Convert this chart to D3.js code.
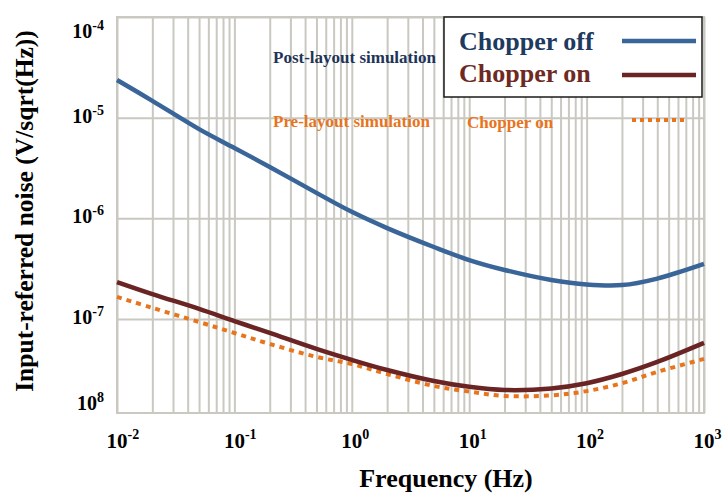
<!DOCTYPE html>
<html>
<head>
<meta charset="utf-8">
<script src="https://cdn.jsdelivr.net/npm/d3@7"></script>
<style>
  body { margin: 0; background: #fff; }
  svg { display: block; font-family: "Liberation Serif", "DejaVu Serif", serif; font-weight: bold; }
</style>
</head>
<body>
<svg id="chart" width="727" height="493"></svg>
<script>
// ---- data ----
const freq = [0.01, 0.02, 0.05, 0.1, 0.2, 0.5, 1, 2, 5, 10, 20, 50, 100, 200, 400, 1000];
const postChopperOff = [2.37e-5, 1.47e-5, 7.7e-6, 5.0e-6, 3.24e-6, 1.79e-6, 1.16e-6, 8.0e-7, 5.19e-7, 3.85e-7, 3.07e-7, 2.44e-7, 2.20e-7, 2.17e-7, 2.52e-7, 3.52e-7];
const postChopperOn  = [2.33e-7, 1.77e-7, 1.26e-7, 9.54e-8, 7.26e-8, 5.04e-8, 3.92e-8, 3.11e-8, 2.42e-8, 2.12e-8, 1.97e-8, 2.04e-8, 2.30e-8, 2.84e-8, 3.74e-8, 5.78e-8];
const preChopperOn   = [1.66e-7, 1.29e-7, 9.33e-8, 7.26e-8, 5.65e-8, 4.20e-8, 3.57e-8, 2.84e-8, 2.16e-8, 1.90e-8, 1.72e-8, 1.74e-8, 1.92e-8, 2.30e-8, 2.98e-8, 4.01e-8];
const xTickValues = [0.01, 0.1, 1, 10, 100, 1000];
const xTickExps   = ["-2", "-1", "0", "1", "2", "3"];
const yTickValues = [1e-4, 1e-5, 1e-6, 1e-7, 1e-8];
const yTickExps   = ["-4", "-5", "-6", "-7", "8"];
const legendLabels = ["Chopper off", "Chopper on"];
const noteLabels = ["Post-layout simulation", "Pre-layout simulation", "Chopper on"];

// ---- layout ----
const svg = d3.select("#chart");
const L = 117, R = 704, T = 17, B = 413;
const x = d3.scaleLog().domain([0.01, 1000]).range([L, R]);
const y = d3.scaleLog().domain([Math.pow(10, -7.934), 1e-4]).range([B, T]);
const gridColor = "#c9c8c1";

// minor + major vertical grid
const xGridVals = [];
for (let e = -2; e < 3; e++) for (let m = 1; m < 10; m++) xGridVals.push(m * Math.pow(10, e));
xGridVals.push(1000);

const gx = svg.append("g").attr("transform", `translate(0,${B})`)
  .call(d3.axisBottom(x).tickValues(xGridVals).tickSize(-(B - T)).tickFormat(""));
gx.select(".domain").remove();
gx.selectAll("line").attr("stroke", gridColor).attr("stroke-width", 2);

const gy = svg.append("g").attr("transform", `translate(${L},0)`)
  .call(d3.axisLeft(y).tickValues(yTickValues.slice(0, 4)).tickSize(-(R - L)).tickFormat(""));
gy.select(".domain").remove();
gy.selectAll("line").attr("stroke", gridColor).attr("stroke-width", 2);

svg.append("rect").attr("x", L).attr("y", T).attr("width", R - L).attr("height", B - T)
  .attr("fill", "none").attr("stroke", gridColor).attr("stroke-width", 2);

// x tick labels
xTickValues.forEach((v, i) => {
  const t = svg.append("text").attr("x", x(v) - 10.5).attr("y", 448)
    .attr("font-size", 21).attr("fill", "#000");
  t.append("tspan").text("10");
  t.append("tspan").attr("dy", -9).attr("font-size", 14).text(xTickExps[i]);
});

// y tick labels
yTickValues.forEach((v, i) => {
  const base = Math.min(Math.max(y(v) + 5, 38), 410);
  const t = svg.append("text").attr("x", 104).attr("y", base)
    .attr("text-anchor", "end").attr("font-size", 20).attr("fill", "#000");
  t.append("tspan").text("10");
  t.append("tspan").attr("dy", -8).attr("font-size", 14).text(yTickExps[i]);
});

// axis titles
svg.append("text").attr("x", 446).attr("y", 487).attr("text-anchor", "middle")
  .attr("font-size", 26).text("Frequency (Hz)");
svg.append("text").attr("transform", "translate(33,211) rotate(-90)").attr("text-anchor", "middle")
  .attr("font-size", 25.5).text("Input-referred noise (V/sqrt(Hz))");

// curves
const line = d3.line().x(d => x(d[0])).y(d => y(d[1])).curve(d3.curveCatmullRom.alpha(0.5));
const blue = "#3a6599", dred = "#6a2424", orange = "#e8741c";

svg.append("path").datum(freq.map((f, i) => [f, preChopperOn[i]]))
  .attr("d", line).attr("fill", "none").attr("stroke", orange)
  .attr("stroke-width", 4).attr("stroke-dasharray", "5,5");
svg.append("path").datum(freq.map((f, i) => [f, postChopperOn[i]]))
  .attr("d", line).attr("fill", "none").attr("stroke", dred).attr("stroke-width", 4.5);
svg.append("path").datum(freq.map((f, i) => [f, postChopperOff[i]]))
  .attr("d", line).attr("fill", "none").attr("stroke", blue).attr("stroke-width", 4.5);

// annotations
svg.append("text").attr("x", 273).attr("y", 63).attr("font-size", 17).attr("fill", "#1e3457").text(noteLabels[0]);
svg.append("text").attr("x", 273).attr("y", 127).attr("font-size", 17).attr("fill", orange).text(noteLabels[1]);
svg.append("text").attr("x", 467).attr("y", 128).attr("font-size", 17).attr("fill", orange).text(noteLabels[2]);
svg.append("line").attr("x1", 632).attr("x2", 684).attr("y1", 120).attr("y2", 120)
  .attr("stroke", orange).attr("stroke-width", 4).attr("stroke-dasharray", "4,4");

// legend
svg.append("rect").attr("x", 444).attr("y", 17).attr("width", 258).attr("height", 80)
  .attr("fill", "#fff").attr("stroke", "#1a1a1a").attr("stroke-width", 1.5);
svg.append("text").attr("x", 459).attr("y", 50).attr("font-size", 26).attr("fill", "#1e3a5f").text(legendLabels[0]);
svg.append("text").attr("x", 459).attr("y", 82).attr("font-size", 26).attr("fill", "#6e2a22").text(legendLabels[1]);
svg.append("line").attr("x1", 622).attr("x2", 696).attr("y1", 41).attr("y2", 41).attr("stroke", blue).attr("stroke-width", 4.5);
svg.append("line").attr("x1", 622).attr("x2", 696).attr("y1", 75).attr("y2", 75).attr("stroke", dred).attr("stroke-width", 4.5);
</script>
</body>
</html>
